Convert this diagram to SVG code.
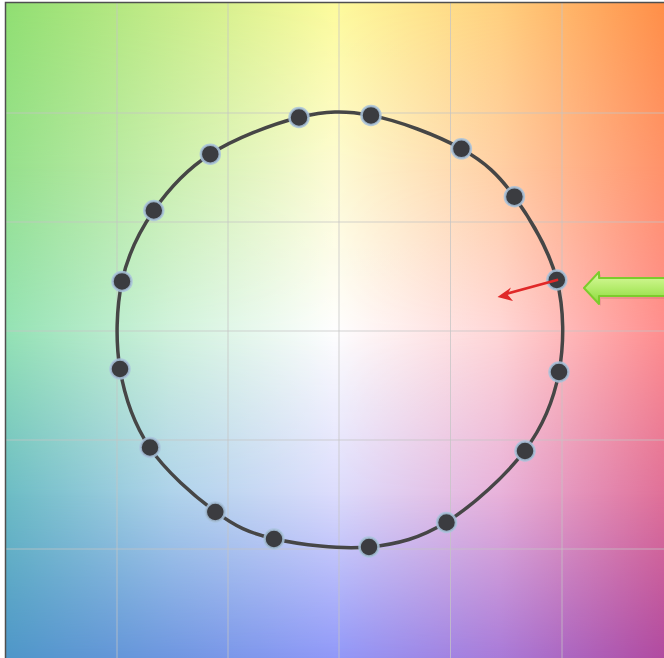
<svg xmlns="http://www.w3.org/2000/svg" width="664" height="658" viewBox="0 0 664 658">
<defs>
<style>
.grid{stroke:#c4c4c4;stroke-opacity:0.75;stroke-width:1;fill:none}
.curve{fill:none;stroke:#464646;stroke-width:3.5;stroke-linejoin:round}
.dot{fill:#3b3c40;stroke:#a9c3dc;stroke-width:2.5;stroke-opacity:0.85}
</style>
<linearGradient id="r0" x1="0" y1="0" x2="1" y2="0">
<stop offset="0" stop-color="#90df72"/><stop offset="0.25" stop-color="#c6ec88"/><stop offset="0.5" stop-color="#fdfb9c"/><stop offset="0.75" stop-color="#ffd07e"/><stop offset="1" stop-color="#ff8f48"/>
</linearGradient>
<linearGradient id="r1" x1="0" y1="0" x2="1" y2="0">
<stop offset="0" stop-color="#96e08c"/><stop offset="0.25" stop-color="#cbefae"/><stop offset="0.5" stop-color="#fdfbd2"/><stop offset="0.75" stop-color="#ffcfa4"/><stop offset="1" stop-color="#ff926a"/>
</linearGradient>
<linearGradient id="r2" x1="0" y1="0" x2="1" y2="0">
<stop offset="0" stop-color="#94e2b4"/><stop offset="0.25" stop-color="#d0f2dc"/><stop offset="0.5" stop-color="#fefefe"/><stop offset="0.75" stop-color="#ffd6d6"/><stop offset="1" stop-color="#ff8e8e"/>
</linearGradient>
<linearGradient id="r3" x1="0" y1="0" x2="1" y2="0">
<stop offset="0" stop-color="#6cbcc4"/><stop offset="0.25" stop-color="#aed2ea"/><stop offset="0.5" stop-color="#dcdcfc"/><stop offset="0.75" stop-color="#e8b2da"/><stop offset="1" stop-color="#e07098"/>
</linearGradient>
<linearGradient id="r4" x1="0" y1="0" x2="1" y2="0">
<stop offset="0" stop-color="#4e96c8"/><stop offset="0.25" stop-color="#6e96e0"/><stop offset="0.5" stop-color="#9098f8"/><stop offset="0.75" stop-color="#a87ad8"/><stop offset="1" stop-color="#b04aa0"/>
</linearGradient>
<linearGradient id="v1" x1="0" y1="0" x2="0" y2="1"><stop offset="0" stop-color="#000"/><stop offset="0.25" stop-color="#fff"/></linearGradient>
<linearGradient id="v2" x1="0" y1="0" x2="0" y2="1"><stop offset="0.25" stop-color="#000"/><stop offset="0.5" stop-color="#fff"/></linearGradient>
<linearGradient id="v3" x1="0" y1="0" x2="0" y2="1"><stop offset="0.5" stop-color="#000"/><stop offset="0.75" stop-color="#fff"/></linearGradient>
<linearGradient id="v4" x1="0" y1="0" x2="0" y2="1"><stop offset="0.75" stop-color="#000"/><stop offset="1" stop-color="#fff"/></linearGradient>
<mask id="m1" maskUnits="userSpaceOnUse" x="0" y="0" width="664" height="658"><rect x="5" y="2" width="659" height="656" fill="url(#v1)"/></mask>
<mask id="m2" maskUnits="userSpaceOnUse" x="0" y="0" width="664" height="658"><rect x="5" y="2" width="659" height="656" fill="url(#v2)"/></mask>
<mask id="m3" maskUnits="userSpaceOnUse" x="0" y="0" width="664" height="658"><rect x="5" y="2" width="659" height="656" fill="url(#v3)"/></mask>
<mask id="m4" maskUnits="userSpaceOnUse" x="0" y="0" width="664" height="658"><rect x="5" y="2" width="659" height="656" fill="url(#v4)"/></mask>
<linearGradient id="garrow" x1="0" y1="0" x2="0" y2="1">
<stop offset="0" stop-color="#dcfaa0"/><stop offset="0.5" stop-color="#b4ec6c"/><stop offset="1" stop-color="#8cd83c"/>
</linearGradient>
</defs>
<rect x="0" y="0" width="664" height="658" fill="#ffffff"/>
<g id="background">
<rect x="5" y="2" width="659" height="656" fill="url(#r0)"/>
<rect x="5" y="2" width="659" height="656" fill="url(#r1)" mask="url(#m1)"/>
<rect x="5" y="2" width="659" height="656" fill="url(#r2)" mask="url(#m2)"/>
<rect x="5" y="2" width="659" height="656" fill="url(#r3)" mask="url(#m3)"/>
<rect x="5" y="2" width="659" height="656" fill="url(#r4)" mask="url(#m4)"/>
</g>
<g id="grid">
<line class="grid" x1="117" y1="2" x2="117" y2="658"/>
<line class="grid" x1="228" y1="2" x2="228" y2="658"/>
<line class="grid" x1="339" y1="2" x2="339" y2="658"/>
<line class="grid" x1="450.5" y1="2" x2="450.5" y2="658"/>
<line class="grid" x1="562" y1="2" x2="562" y2="658"/>
<line class="grid" x1="5" y1="113" x2="664" y2="113"/>
<line class="grid" x1="5" y1="222" x2="664" y2="222"/>
<line class="grid" x1="5" y1="331" x2="664" y2="331"/>
<line class="grid" x1="5" y1="440" x2="664" y2="440"/>
<line class="grid" x1="5" y1="549" x2="664" y2="549"/>
</g>
<path id="frame" d="M5.5,658 V2.5 H664" fill="none" stroke="#4f4f4f" stroke-width="1.5"/>
<g id="connectors">
<path class="curve" d="M299,117.5 C325.8,111 343.9,110.2 371,115.4 C398.1,120.6 437.5,135.3 461.4,148.8 C485.3,162.4 498.5,174.8 514.4,196.7 C530.3,218.6 549.4,250.8 556.8,280 C564.2,309.2 564.3,343.6 559,372 C553.7,400.4 543.8,425.3 525,450.3 C506.3,475.3 472.5,505.9 446.5,522 C420.5,538.1 397.8,544.2 369,547 C340.3,549.8 299.6,544.6 274,538.7 C248.4,532.8 236,526.8 215.3,511.6 C194.6,496.4 165.5,471.2 149.6,447.4 C133.7,423.6 124.6,396.7 120,369 C115.4,341.3 116.4,307.8 122,281.4 C127.6,255 139.1,231.7 153.8,210.5 C168.5,189.3 186.1,169.7 210.3,154.2 C234.5,138.7 272.2,124 299,117.5 Z"/>
</g>
<g id="dot-1"><circle class="dot" cx="299" cy="117.5" r="9.5"/></g>
<g id="dot-2"><circle class="dot" cx="371" cy="115.4" r="9.5"/></g>
<g id="dot-3"><circle class="dot" cx="461.4" cy="148.8" r="9.5"/></g>
<g id="dot-4"><circle class="dot" cx="514.4" cy="196.7" r="9.5"/></g>
<g id="dot-5"><circle class="dot" cx="556.8" cy="280" r="9.5"/></g>
<g id="dot-6"><circle class="dot" cx="559" cy="372" r="9.5"/></g>
<g id="dot-7"><circle class="dot" cx="525" cy="451" r="9.5"/></g>
<g id="dot-8"><circle class="dot" cx="446.5" cy="522.5" r="9.5"/></g>
<g id="dot-9"><circle class="dot" cx="369" cy="547" r="9.5"/></g>
<g id="dot-10"><circle class="dot" cx="274" cy="539" r="9.5"/></g>
<g id="dot-11"><circle class="dot" cx="215.3" cy="512" r="9.5"/></g>
<g id="dot-12"><circle class="dot" cx="150" cy="447.5" r="9.5"/></g>
<g id="dot-13"><circle class="dot" cx="120" cy="369" r="9.5"/></g>
<g id="dot-14"><circle class="dot" cx="122" cy="281.4" r="9.5"/></g>
<g id="dot-15"><circle class="dot" cx="153.8" cy="210.5" r="9.5"/></g>
<g id="dot-16"><circle class="dot" cx="210.3" cy="154.2" r="9.5"/></g>
<g id="red-arrow">
<line x1="557" y1="280" x2="506" y2="294" stroke="#e02828" stroke-width="2.7" stroke-linecap="round"/>
<polygon points="497.5,297 511,287.5 507.5,294.5 513,301" fill="#e02828"/>
</g>
<g id="green-arrow">
<path d="M586,290 L601,274 L601,280 L668,280 L668,299 L601,299 L601,306 Z" fill="#a05060" fill-opacity="0.18"/>
<path d="M584,288 L599,272 L599,278 L668,278 L668,296 L599,296 L599,304 Z" fill="url(#garrow)" stroke="#7ccc2c" stroke-width="2" stroke-linejoin="round"/>
</g>
</svg>
